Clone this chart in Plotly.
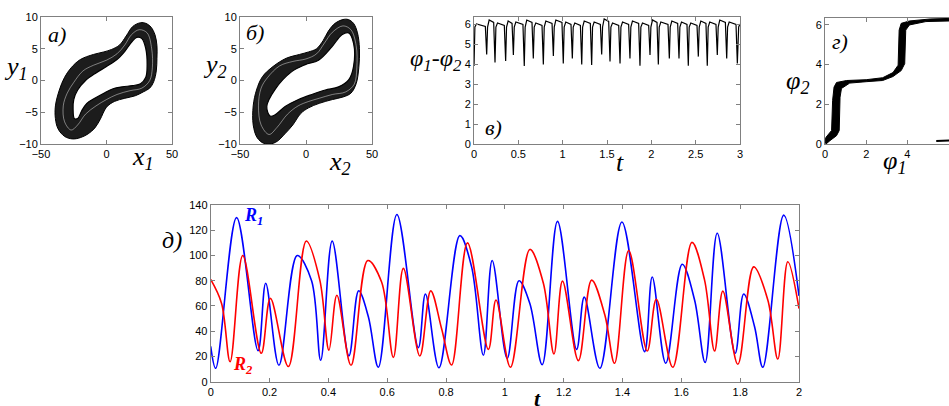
import plotly.graph_objects as go

W, H = 949, 406

# ---------------- data ----------------
# panel а: attractor x1-y1 (outer and inner contour of the band, one strand inside)
a_outer_x = [26, 20, 15, 10, 4, -2, -10, -20, -27, -32, -36, -39, -39, -37, -32, -26, -20, -14, -9, -5, 0, 6, 14, 22, 28, 33, 36, 38, 38.5, 38.5, 37, 34, 30, 26]
a_outer_y = [9.1, 8.5, 7.0, 5.6, 4.9, 4.5, 4.1, 3.3, 2.0, 0.5, -1.5, -4, -6, -7.6, -8.8, -9.2, -9.0, -8.4, -7.5, -6.2, -4.2, -3.3, -2.8, -2.4, -1.8, -1.2, -0.2, 1.5, 3.5, 5.5, 7.2, 8.4, 9.0, 9.1]
a_inner_x = [-25, -22, -16, -8, 0, 8, 14, 19, 23, 27, 30, 31, 30, 26, 20, 12, 5, -2, -9, -15, -19, -22, -24.5, -25.5, -25]
a_inner_y = [-3, -1.5, 0, 1.2, 2.2, 3.3, 4.6, 6.0, 6.8, 6.6, 5.0, 2.5, 0.5, -0.5, -0.8, -1.0, -1.3, -2.0, -2.8, -3.6, -4.8, -6.0, -6.0, -4.5, -3]
a_mid_x = [25, 31, 34.5, 35, 33, 27, 18, 8, 0, -8, -16, -22, -27, -32, -33, -30, -25, -18, -10, 0, 8, 14, 19, 25]
a_mid_y = [8, 7.5, 5, 2, 0, -1.2, -1.6, -2.2, -3, -4, -5.3, -7, -7.8, -6.5, -4, -2, -0.3, 1.5, 2.4, 3.2, 4.2, 5.6, 7.2, 8]

# panel б: attractor x2-y2
b_outer_x = [28, 22, 17, 13, 8, 2, -5, -15, -25, -33, -37.5, -40, -40, -37, -32, -27, -22, -16, -10, -4, 2, 10, 20, 28, 34, 38, 40, 40.5, 39, 36, 32, 28]
b_outer_y = [9.6, 9.0, 7.8, 6.3, 5.0, 4.5, 4.1, 3.5, 2.2, 0.6, -1.5, -4, -7, -9, -9.9, -10, -9.6, -8.4, -7.0, -5.2, -4.3, -3.6, -3.0, -2.6, -2.0, -0.5, 2, 5, 7.5, 9.0, 9.6, 9.6]
b_inner_x = [-29.7, -23.4, -10.8, -0.6, 9.5, 19.6, 27.2, 32.3, 36, 36, 32.3, 24.7, 14.6, 4.4, -5.7, -15.8, -23.4, -27.2, -29.7]
b_inner_y = [-4.1, -1.4, 1.4, 2.5, 3.2, 5.3, 7.2, 7.5, 5.9, 2.2, 0.1, -1.0, -1.5, -2.2, -3.0, -4.1, -5.4, -5.6, -4.1]
b_mid_x = [28, 34, 38, 38.5, 36.5, 30, 20, 10, 2, -6, -14, -22, -28, -34, -36, -34, -29, -20, -10, 0, 8, 14, 20, 28]
b_mid_y = [8.6, 8, 5.5, 2, -0.6, -1.8, -2.2, -2.8, -3.3, -4, -5.3, -7.4, -8.5, -7, -4, -1.2, 0.5, 2.3, 3.0, 3.4, 4.2, 5.9, 7.6, 8.6]

# panel в: phase difference, dips and arch heights
dip_t = [0.0, 0.143, 0.237, 0.357, 0.444, 0.567, 0.669, 0.782, 0.895, 1.007, 1.109, 1.215, 1.327, 1.440,
         1.534, 1.647, 1.759, 1.872, 1.985, 2.079, 2.203, 2.312, 2.417, 2.530, 2.631, 2.744, 2.850, 2.970]
dip_v = [3.9, 4.48, 4.07, 4.15, 4.45, 3.9, 4.28, 3.98, 4.4, 4.03, 4.28, 3.98, 3.95, 4.48,
         4.12, 4.03, 4.28, 3.91, 4.45, 3.98, 4.28, 4.28, 3.91, 4.37, 3.91, 4.45, 4.28, 4.03]
arch_top = [6.0, 6.2, 6.05, 6.15, 6.1, 6.2, 6.05, 6.15, 6.2, 6.1, 6.05, 6.15, 6.1, 6.25,
            6.05, 6.1, 6.15, 6.05, 6.2, 6.1, 6.15, 6.1, 6.05, 6.15, 6.1, 6.2, 6.1, 6.0]

# panel г: phi2 vs phi1 band outline
g_x = [0, 0.05, 0.32, 0.37, 0.44, 0.56, 1.05, 2.0, 2.8, 3.3, 3.55, 3.6, 3.7, 4.1, 5.1, 6.05,
       6.05, 4.9, 4.1, 3.92, 3.87, 3.7, 3.3, 2.8, 2.0, 1.2, 0.8, 0.73, 0.69, 0.56, 0.24, 0.05, 0]
g_y = [0.17, 0.34, 0.68, 2.2, 2.87, 3.1, 3.2, 3.24, 3.34, 3.6, 3.97, 5.74, 6.08, 6.2, 6.3, 6.33,
       6.2, 6.17, 6.0, 5.74, 4.05, 3.7, 3.4, 3.2, 3.14, 3.07, 2.8, 2.36, 0.68, 0.42, 0.17, 0.0, 0.17]
g_tail_x = [5.4, 6.05]
g_tail_y = [0.15, 0.18]

# panel д: R1 and R2
r1_t = [0, 0.017, 0.088, 0.161, 0.187, 0.232, 0.294, 0.343, 0.374, 0.413, 0.470, 0.503, 0.536, 0.570, 0.633,
        0.706, 0.730, 0.776, 0.847, 0.887, 0.927, 0.957, 1.008, 1.048, 1.085, 1.127, 1.179, 1.244, 1.270,
        1.323, 1.398, 1.475, 1.501, 1.547, 1.603, 1.645, 1.681, 1.722, 1.783, 1.812, 1.849, 1.877, 1.948, 2.0]
r1_v = [28, 10.6, 130, 24.6, 78, 13, 100, 80, 17, 111.5, 20.5, 72, 51.5, 11.5, 132.5,
        27, 69.5, 11, 115.7, 91, 21, 96, 18.5, 80, 62, 13.5, 127, 25.6, 67,
        10.6, 126.5, 23.8, 83, 14.6, 93, 64.7, 15.3, 117.6, 22.5, 69.5, 43.6, 11.4, 132, 68]
r2_t = [0, 0.037, 0.066, 0.109, 0.172, 0.203, 0.264, 0.325, 0.371, 0.402, 0.429, 0.477, 0.534, 0.581, 0.621,
        0.655, 0.711, 0.748, 0.785, 0.819, 0.873, 0.944, 0.970, 1.019, 1.085, 1.131, 1.167, 1.196, 1.250,
        1.295, 1.340, 1.373, 1.421, 1.484, 1.515, 1.571, 1.636, 1.679, 1.713, 1.741, 1.792, 1.846, 1.894,
        1.928, 1.962, 2.0]
r2_v = [81, 62, 15.8, 100, 22.5, 66, 12, 111.5, 80.5, 25, 68.5, 13, 96, 79, 19.3,
        89.8, 20.4, 72, 42, 13.2, 110, 25.6, 64.7, 11.4, 104.8, 78, 22, 79.7, 16.7,
        80.5, 52.8, 14.6, 104, 24.3, 65.3, 11.4, 110.4, 80.5, 24.3, 71.8, 13.8, 91, 64.7,
        18, 95, 58]

# ---------------- figure ----------------
fig = go.Figure()

def dom_x(a, b):
    return [a / W, b / W]

def dom_y(top, bottom):
    return [1 - bottom / H, 1 - top / H]

BOX = "#808080"
TICKF = dict(family="Liberation Sans, Arial", size=11, color="black")

def axis(domain, rng, tickvals, mirror="ticks", anchor=None):
    return dict(domain=domain, range=rng, tickvals=tickvals, showgrid=False, zeroline=False,
                showline=True, linecolor=BOX, linewidth=1, mirror=mirror, ticks="inside",
                ticklen=4, tickcolor=BOX, tickfont=TICKF, fixedrange=True, anchor=anchor,
                automargin=False)

def band(xo, yo, xi, yi, xm, ym, xa, ya):
    fig.add_trace(go.Scatter(x=xo, y=yo, mode="lines", line=dict(color="black", width=1),
                             fill="toself", fillcolor="#1c1c1c", xaxis=xa, yaxis=ya,
                             line_shape="spline", showlegend=False, hoverinfo="skip"))
    fig.add_trace(go.Scatter(x=xi, y=yi, mode="lines", line=dict(color="black", width=1.2),
                             fill="toself", fillcolor="white", xaxis=xa, yaxis=ya,
                             line_shape="spline", showlegend=False, hoverinfo="skip"))
    fig.add_trace(go.Scatter(x=xm, y=ym, mode="lines", line=dict(color="rgba(255,255,255,0.55)", width=0.8),
                             xaxis=xa, yaxis=ya, line_shape="spline", showlegend=False, hoverinfo="skip"))

band(a_outer_x, a_outer_y, a_inner_x, a_inner_y, a_mid_x, a_mid_y, "x", "y")
band(b_outer_x, b_outer_y, b_inner_x, b_inner_y, b_mid_x, b_mid_y, "x2", "y2")

# panel в
c_t, c_v = [], []
n = len(dip_t)
for i in range(n):
    td, vd = dip_t[i], dip_v[i]
    if i + 1 < n:
        tn = dip_t[i + 1]
        c_t += [td, td + 0.01, td + 0.028, tn - 0.015]
        c_v += [vd, 5.85, arch_top[i], arch_top[i] - 0.12]
    else:
        c_t += [td, td + 0.015, 3.0]
        c_v += [vd, 5.85, arch_top[i]]
fig.add_trace(go.Scatter(x=c_t, y=c_v, mode="lines", line=dict(color="black", width=1.2),
                         xaxis="x3", yaxis="y3", showlegend=False))

# panel г
fig.add_trace(go.Scatter(x=g_x, y=g_y, mode="lines", line=dict(color="black", width=1),
                         fill="toself", fillcolor="black", xaxis="x4", yaxis="y4", showlegend=False))
fig.add_trace(go.Scatter(x=g_tail_x, y=g_tail_y, mode="lines", line=dict(color="black", width=2),
                         xaxis="x4", yaxis="y4", showlegend=False))

# panel д
fig.add_trace(go.Scatter(x=r1_t, y=r1_v, mode="lines", line=dict(color="#0000ff", width=1.6),
                         line_shape="spline", xaxis="x5", yaxis="y5", showlegend=False))
fig.add_trace(go.Scatter(x=r2_t, y=r2_v, mode="lines", line=dict(color="#ff0000", width=1.6),
                         line_shape="spline", xaxis="x5", yaxis="y5", showlegend=False))

top_y = dom_y(17, 144)
fig.update_layout(
    width=W, height=H, autosize=False, margin=dict(l=0, r=0, t=0, b=0, autoexpand=False),
    paper_bgcolor="white", plot_bgcolor="white", showlegend=False,
    xaxis=axis(dom_x(41, 172), [-50, 50], [-50, 0, 50], anchor="y"),
    yaxis=axis(top_y, [-10, 10], [-10, -5, 0, 5, 10], anchor="x"),
    xaxis2=axis(dom_x(240, 372), [-50, 50], [-50, 0, 50], anchor="y2"),
    yaxis2=axis(top_y, [-10, 10], [-10, -5, 0, 5, 10], anchor="x2"),
    xaxis3=axis(dom_x(474, 740), [0, 3], [0, 0.5, 1, 1.5, 2, 2.5, 3], anchor="y3"),
    yaxis3=axis(top_y, [0, 6.35], [0, 1, 2, 3, 4, 5, 6], anchor="x3"),
    xaxis4=axis(dom_x(825, 949), [0, 6.02], [0, 2, 4], anchor="y4"),
    yaxis4=axis(dom_y(18, 144), [0, 6.35], [0, 2, 4, 6], mirror=False, anchor="x4"),
    xaxis5=axis(dom_x(210.7, 799), [0, 2], [0, 0.2, 0.4, 0.6, 0.8, 1, 1.2, 1.4, 1.6, 1.8, 2], anchor="y5"),
    yaxis5=axis(dom_y(205, 381.7), [0, 140], [0, 20, 40, 60, 80, 100, 120, 140], anchor="x5"),
)

SERIF = "Liberation Serif, Times New Roman, serif"

def label(text, x, y, size=22, color="black"):
    fig.add_annotation(text=text, x=x / W, y=1 - y / H, xref="paper", yref="paper",
                       showarrow=False, xanchor="center", yanchor="middle",
                       font=dict(family=SERIF, size=size, color=color))

label("<i>а)</i>", 57, 34, 22)
label("<i>y<sub>1</sub></i>", 16, 68, 26)
label("<i>x<sub>1</sub></i>", 143, 158, 26)
label("<i>б)</i>", 255, 33, 22)
label("<i>y<sub>2</sub></i>", 215, 66, 26)
label("<i>x<sub>2</sub></i>", 340, 163, 26)
label("<i>φ<sub>1</sub>-φ<sub>2</sub></i>", 436, 60, 24)
label("<i>в)</i>", 493, 127, 22)
label("<i>t</i>", 620, 162, 26)
label("<i>г)</i>", 840, 41, 22)
label("<i>φ<sub>2</sub></i>", 797, 82, 26)
label("<i>φ<sub>1</sub></i>", 894, 162, 26)
label("<i>д)</i>", 172, 240, 24)
label("<b><i>R<sub>1</sub></i></b>", 253, 217, 18, "#0000ff")
label("<b><i>R<sub>2</sub></i></b>", 243, 365, 18, "#ff0000")
label("<b><i>t</i></b>", 537, 398, 22)

fig.write_html("out.html", config={"displayModeBar": False},
               post_script="document.body.style.margin='0';document.body.style.overflow='hidden';")
